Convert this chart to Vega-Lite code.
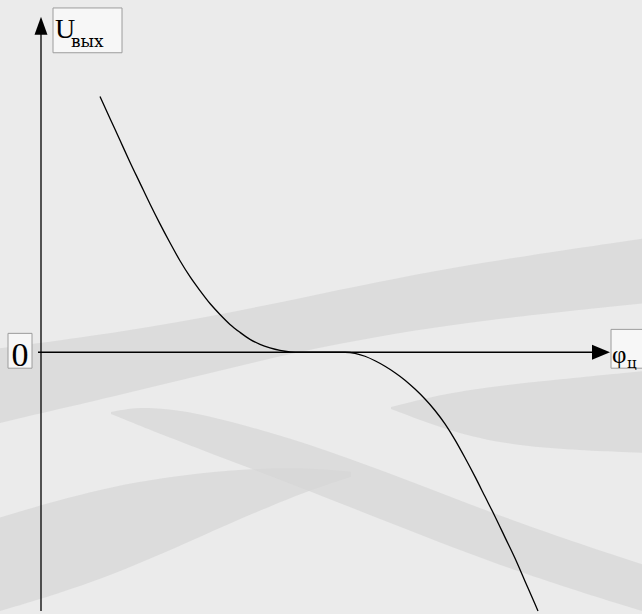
{
  "$schema": "https://vega.github.io/schema/vega-lite/v6.json",
  "width": 642,
  "height": 614,
  "autosize": {"type": "fit", "contains": "padding"},
  "padding": 0,
  "background": "#ebebeb",
  "config": {"view": {"stroke": null}},
  "datasets": {
    "bands": [
      {"band": "A", "phi": -0.41, "u": 0.04, "u2": -0.71},
      {"band": "A", "phi": 1.09, "u": 0.24, "u2": -0.36},
      {"band": "A", "phi": 2.59, "u": 0.54, "u2": 0.02},
      {"band": "A", "phi": 4.09, "u": 0.86, "u2": 0.29},
      {"band": "A", "phi": 6.01, "u": 1.14, "u2": 0.49},
      {"band": "B", "phi": -0.41, "u": -1.66, "u2": -2.6},
      {"band": "B", "phi": 0.59, "u": -1.36, "u2": -2.3},
      {"band": "B", "phi": 1.6, "u": -1.2, "u2": -1.85},
      {"band": "B", "phi": 2.5, "u": -1.15, "u2": -1.45},
      {"band": "B", "phi": 3.1, "u": -1.2, "u2": -1.25},
      {"band": "C", "phi": 0.7, "u": -0.6, "u2": -0.62},
      {"band": "C", "phi": 1.23, "u": -0.5, "u2": -0.84},
      {"band": "C", "phi": 2.87, "u": -0.96, "u2": -1.46},
      {"band": "C", "phi": 4.51, "u": -1.63, "u2": -2.13},
      {"band": "C", "phi": 6.01, "u": -2.13, "u2": -2.6},
      {"band": "D", "phi": 3.5, "u": -0.55, "u2": -0.57},
      {"band": "D", "phi": 4.1, "u": -0.4, "u2": -0.8},
      {"band": "D", "phi": 4.79, "u": -0.31, "u2": -0.96},
      {"band": "D", "phi": 6.01, "u": -0.19, "u2": -1.01}
    ],
    "axes": [
      {"phi": 0, "u": -2.6, "phi2": 0, "u2": 3.22},
      {"phi": -0.03, "u": 0, "phi2": 5.52, "u2": 0}
    ],
    "arrows": [
      {"dir": "up", "phi": 0, "u": 3.28},
      {"dir": "right", "phi": 5.6, "u": 0}
    ],
    "curve": [
      {"phi": 0.59, "u": 2.57},
      {"phi": 0.69, "u": 2.35},
      {"phi": 0.79, "u": 2.13},
      {"phi": 0.89, "u": 1.91},
      {"phi": 0.99, "u": 1.7},
      {"phi": 1.09, "u": 1.49},
      {"phi": 1.19, "u": 1.29},
      {"phi": 1.29, "u": 1.1},
      {"phi": 1.39, "u": 0.92},
      {"phi": 1.49, "u": 0.76},
      {"phi": 1.59, "u": 0.62},
      {"phi": 1.69, "u": 0.49},
      {"phi": 1.79, "u": 0.38},
      {"phi": 1.89, "u": 0.28},
      {"phi": 1.99, "u": 0.2},
      {"phi": 2.09, "u": 0.13},
      {"phi": 2.19, "u": 0.08},
      {"phi": 2.29, "u": 0.045},
      {"phi": 2.39, "u": 0.02},
      {"phi": 2.49, "u": 0.005},
      {"phi": 2.59, "u": 0},
      {"phi": 3.04, "u": 0},
      {"phi": 3.14, "u": -0.01},
      {"phi": 3.24, "u": -0.04},
      {"phi": 3.34, "u": -0.085},
      {"phi": 3.44, "u": -0.14},
      {"phi": 3.54, "u": -0.205},
      {"phi": 3.64, "u": -0.28},
      {"phi": 3.74, "u": -0.37},
      {"phi": 3.84, "u": -0.47},
      {"phi": 3.94, "u": -0.585},
      {"phi": 4.04, "u": -0.72},
      {"phi": 4.14, "u": -0.88},
      {"phi": 4.24, "u": -1.06},
      {"phi": 4.34, "u": -1.25},
      {"phi": 4.44, "u": -1.45},
      {"phi": 4.54, "u": -1.65},
      {"phi": 4.64, "u": -1.86},
      {"phi": 4.74, "u": -2.07},
      {"phi": 4.84, "u": -2.3},
      {"phi": 4.94, "u": -2.53},
      {"phi": 4.97, "u": -2.6}
    ],
    "boxes": [
      {"name": "U", "phi": 0.12, "phi2": 0.81, "u": 3.46, "u2": 3.01},
      {"name": "zero", "phi": -0.33, "phi2": -0.09, "u": 0.19, "u2": -0.16},
      {"name": "phi", "phi": 5.7, "phi2": 6.3, "u": 0.23, "u2": -0.16}
    ]
  },
  "encoding": {
    "x": {"field": "phi", "type": "quantitative", "scale": {"domain": [-0.41, 6.01], "nice": false, "zero": false}, "axis": null},
    "y": {"field": "u", "type": "quantitative", "scale": {"domain": [-2.6, 3.54], "nice": false, "zero": false}, "axis": null}
  },
  "layer": [
    {
      "data": {"name": "bands"},
      "mark": {"type": "area", "interpolate": "basis", "color": "#d6d6d6", "opacity": 0.7},
      "encoding": {
        "y2": {"field": "u2"},
        "detail": {"field": "band"}
      }
    },
    {
      "data": {"name": "axes"},
      "mark": {"type": "rule", "color": "#000000", "strokeWidth": 1.3},
      "encoding": {
        "x2": {"field": "phi2"},
        "y2": {"field": "u2"}
      }
    },
    {
      "data": {"name": "arrows"},
      "mark": {"type": "point", "filled": true, "color": "#000000", "opacity": 1, "size": 324},
      "encoding": {
        "shape": {
          "field": "dir",
          "type": "nominal",
          "scale": {"domain": ["up", "right"], "range": ["M0,-1L0.72,1L-0.72,1Z", "M1,0L-1,-0.83L-1,0.83Z"]},
          "legend": null
        }
      }
    },
    {
      "data": {"name": "curve"},
      "mark": {"type": "line", "color": "#000000", "strokeWidth": 1.3, "interpolate": "monotone"},
      "encoding": {}
    },
    {
      "data": {"name": "boxes"},
      "mark": {"type": "rect", "fill": "#f7f7f7", "stroke": "#9c9c9c", "strokeWidth": 1, "clip": true},
      "encoding": {
        "x2": {"field": "phi2"},
        "y2": {"field": "u2"}
      }
    },
    {
      "data": {"values": [{"txt": "U", "phi": 0.14, "u": 3.16}]},
      "mark": {"type": "text", "font": "Liberation Serif", "fontSize": 28, "align": "left", "baseline": "alphabetic", "color": "#000000"},
      "encoding": {"text": {"field": "txt"}}
    },
    {
      "data": {"values": [{"txt": "вых", "phi": 0.3, "u": 3.07}]},
      "mark": {"type": "text", "font": "DejaVu Serif", "fontSize": 17, "align": "left", "baseline": "alphabetic", "color": "#000000"},
      "encoding": {"text": {"field": "txt"}}
    },
    {
      "data": {"values": [{"txt": "0", "phi": -0.21, "u": -0.14}]},
      "mark": {"type": "text", "font": "Liberation Serif", "fontSize": 34, "align": "center", "baseline": "alphabetic", "color": "#000000"},
      "encoding": {"text": {"field": "txt"}}
    },
    {
      "data": {"values": [{"txt": "φ", "phi": 5.71, "u": -0.11}]},
      "mark": {"type": "text", "font": "Liberation Serif", "fontSize": 25, "align": "left", "baseline": "alphabetic", "color": "#000000", "clip": true},
      "encoding": {"text": {"field": "txt"}}
    },
    {
      "data": {"values": [{"txt": "ц", "phi": 5.86, "u": -0.16}]},
      "mark": {"type": "text", "font": "DejaVu Serif", "fontSize": 15, "align": "left", "baseline": "alphabetic", "color": "#000000", "clip": true},
      "encoding": {"text": {"field": "txt"}}
    }
  ]
}
